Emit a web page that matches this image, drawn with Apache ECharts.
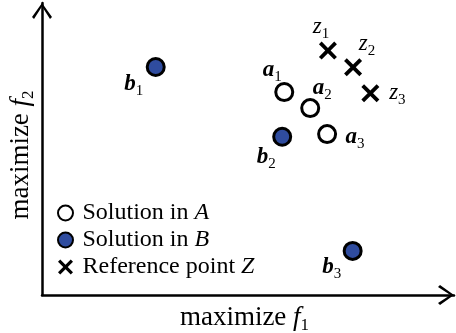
<!DOCTYPE html>
<html>
<head>
<meta charset="utf-8">
<script src="https://cdn.jsdelivr.net/npm/echarts@6/dist/echarts.min.js"></script>
<style>
  html, body { margin: 0; padding: 0; background: #fff; }
  #chart { width: 456px; height: 333px; }
</style>
</head>
<body>
<div id="chart"></div>
<script>
// Objective-space illustration: solutions of sets A and B against reference points Z.
const pointNamesA = ['a1', 'a2', 'a3'];
const f1A = [58.8, 65.1, 69.2];
const f2A = [69.5, 64.0, 55.1];

const pointNamesB = ['b1', 'b2', 'b3'];
const f1B = [27.6, 58.3, 75.4];
const f2B = [78.1, 54.2, 15.1];

const pointNamesZ = ['z1', 'z2', 'z3'];
const f1Z = [69.4, 75.5, 79.7];
const f2Z = [83.7, 78.0, 69.1];

const seriesNames = ['Solution in A', 'Solution in B', 'Reference point Z'];
const axisTitles = ['maximize f1', 'maximize f2'];

// where each point's label sits relative to its marker (px)
const labelOffsets = {
  a1: [-12, -22], a2: [12, -20], a3: [28, 3],
  b1: [-22, 17], b2: [-16, 20], b3: [-21, 16],
  z1: [-7, -24], z2: [14, -23], z3: [27, 0]
};

const SERIF = '"Liberation Serif", "Times New Roman", serif';
const BLUE = '#2f4c9f';
const CROSS = 'path://M3,0 L10,7 L17,0 L20,3 L13,10 L20,17 L17,20 L10,13 L3,20 L0,17 L7,10 L0,3 Z';
const CHEVRON = 'path://M10,0 L20,14 L18,16 L10,3.6 L2,16 L0,14 Z';

function pts(names, xs, ys, boldLetter) {
  return names.map((n, i) => ({
    name: n,
    value: [xs[i], ys[i]],
    label: {
      show: true,
      position: 'inside',
      offset: labelOffsets[n],
      formatter: () => '{' + (boldLetter ? 'v' : 'w') + '|' + n[0] + '}{s|' + n.slice(1) + '}'
    }
  }));
}

const labelRich = {
  v: { fontFamily: SERIF, fontSize: 23, fontStyle: 'italic', fontWeight: 'bold', color: '#000', lineHeight: 29 },
  w: { fontFamily: SERIF, fontSize: 23, fontStyle: 'italic', color: '#000', lineHeight: 29 },
  s: { fontFamily: SERIF, fontSize: 15, color: '#000', verticalAlign: 'bottom' }
};

function axisTitle(t) {
  return t.replace(/ f(\d)$/, ' {f|f}{s|$1}');
}

const nameRich = {
  f: { fontFamily: SERIF, fontSize: 27, fontStyle: 'italic', color: '#000', lineHeight: 32 },
  s: { fontFamily: SERIF, fontSize: 17, color: '#000', verticalAlign: 'bottom' }
};

const axisCommon = {
  type: 'value',
  min: 0,
  max: 100,
  nameLocation: 'middle',
  axisLine: {
    show: true,
    onZero: false,
    symbol: ['none', CHEVRON],
    symbolSize: [20, 16],
    symbolOffset: [0, -8],
    lineStyle: { color: '#000', width: 2.5 }
  },
  axisTick: { show: false },
  axisLabel: { show: false },
  splitLine: { show: false }
};

const nameStyle = (pad) => ({
  fontFamily: SERIF, fontSize: 27, color: '#000', lineHeight: 32, padding: pad, rich: nameRich
});

const chart = echarts.init(document.getElementById('chart'), null, { renderer: 'canvas' });

chart.setOption({
  animation: false,
  backgroundColor: '#fff',
  grid: { left: 42, right: 2, top: 3, bottom: 38, outerBoundsMode: 'none', containLabel: false },
  xAxis: Object.assign({}, axisCommon, {
    name: axisTitle(axisTitles[0]), nameGap: 7, nameTextStyle: nameStyle([0, 7, 0, 0])
  }),
  yAxis: Object.assign({}, axisCommon, {
    name: axisTitle(axisTitles[1]), nameGap: 5, nameTextStyle: nameStyle([0, 12, 0, 0])
  }),
  legend: {
    orient: 'vertical',
    left: 52,
    top: 196,
    itemWidth: 20,
    itemHeight: 15,
    itemGap: 3,
    data: seriesNames,
    formatter: n => n.replace(/ (\w)$/, ' {i|$1}'),
    textStyle: {
      fontFamily: SERIF, fontSize: 24, color: '#000', lineHeight: 20, padding: [0, 0, 0, 2],
      rich: { i: { fontFamily: SERIF, fontSize: 24, fontStyle: 'italic', color: '#000', lineHeight: 20 } }
    }
  },
  series: [
    {
      name: seriesNames[0], type: 'scatter', symbol: 'circle', symbolSize: 17,
      itemStyle: { color: '#fff', borderColor: '#000', borderWidth: 3, opacity: 1 },
      label: { rich: labelRich },
      data: pts(pointNamesA, f1A, f2A, true)
    },
    {
      name: seriesNames[1], type: 'scatter', symbol: 'circle', symbolSize: 17,
      itemStyle: { color: BLUE, borderColor: '#000', borderWidth: 3, opacity: 1 },
      label: { rich: labelRich },
      data: pts(pointNamesB, f1B, f2B, true)
    },
    {
      name: seriesNames[2], type: 'scatter', symbol: CROSS, symbolSize: 18,
      itemStyle: { color: '#000', opacity: 1 },
      label: { rich: labelRich },
      data: pts(pointNamesZ, f1Z, f2Z, false)
    }
  ]
});
</script>
</body>
</html>
